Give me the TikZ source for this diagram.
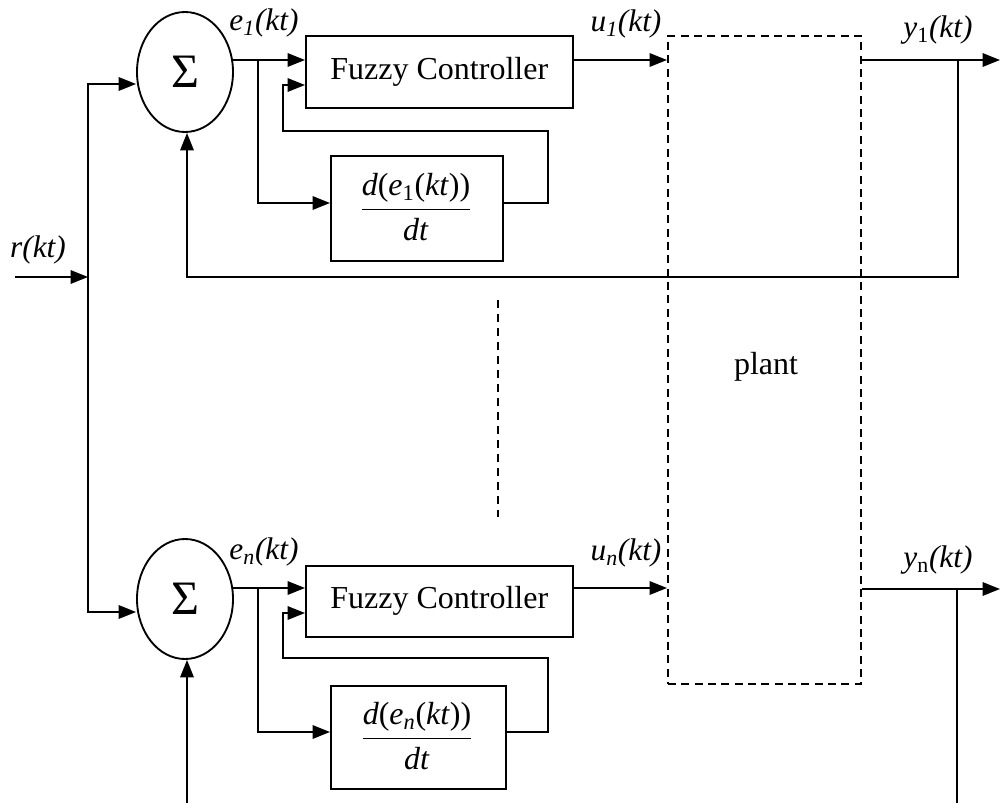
\documentclass[tikz,border=0pt]{standalone}
\usepackage{fontspec}
\setmainfont{Liberation Serif}
\usetikzlibrary{arrows.meta,shapes.geometric}
\begin{document}
\begin{tikzpicture}[x=0.75pt,y=-0.75pt,
  line width=1.5pt,
  >={Triangle[length=13pt,width=10pt]},
  blk/.style={draw,line width=1.4pt,inner sep=0pt},
  sumnode/.style={draw,ellipse,minimum width=72pt,minimum height=90pt,inner sep=0pt,line width=1.4pt,font=\fontsize{36}{36}\selectfont},
  lbl/.style={inner sep=0pt,font=\fontsize{23.5}{26}\selectfont},
  txt/.style={font=\fontsize{24}{27}\selectfont}]
\useasboundingbox (0,0) rectangle (1000,803);
% ---------- plant ----------
\node[blk,dashed,dash pattern=on 6pt off 4pt,minimum width=144.75pt,minimum height=486pt,anchor=north west] (plant) at (667,35) {};
\node[txt] (plantlbl) at (766,367) {plant};
% ---------- top loop ----------
\node[sumnode] (s1) at (185,72) {Σ};
\node[blk,minimum width=200pt,minimum height=54pt,anchor=north west,txt] (fc1) at (305,35) {Fuzzy Controller};
\node[blk,minimum width=129pt,minimum height=79pt,anchor=north west] (d1) at (330,155) {};
\node[txt] at (416,207) {$\displaystyle\frac{\hbox{\textit{d}(\textit{e}\textsubscript{1}(\textit{kt}))}}{\hbox{\textit{dt}}}$};
\node[lbl] (e1) at (264,23) {\textit{e\textsubscript{1}(kt)}};
\node[lbl] (u1) at (626,24) {\textit{u\textsubscript{1}(kt)}};
\node[lbl] (y1) at (938,30) {\textit{y}\textsubscript{1}\textit{(kt)}};
\coordinate (o1) at (233,60);
\coordinate (b1) at (258,60);
\draw[->] (o1) -- (fc1.west |- o1);
\draw[->] (b1) |- (d1.west |- 0,203);
\draw[->] (d1.east |- 0,203) -- (548,203) |- (283,131) |- (fc1.west |- 0,85);
\draw[->] (fc1.east |- o1) -- (plant.west |- o1);
\coordinate (y1o) at (1000,60);
\coordinate (t1) at (958,60);
\draw[->] (plant.east |- o1) -- (y1o);
\draw[->] (t1) |- (187,277) -- (s1.south -| 187,0);
% ---------- bottom loop ----------
\node[sumnode] (s2) at (185,599) {Σ};
\node[blk,minimum width=200pt,minimum height=53pt,anchor=north west,txt] (fc2) at (305,565) {Fuzzy Controller};
\node[blk,minimum width=131pt,minimum height=77pt,anchor=north west] (d2) at (330,685) {};
\node[txt] at (417,736) {$\displaystyle\frac{\hbox{\textit{d}(\textit{e}\textsubscript{\textit{n}}(\textit{kt}))}}{\hbox{\textit{dt}}}$};
\node[lbl] (en) at (264,552) {\textit{e\textsubscript{n}(kt)}};
\node[lbl] (un) at (626,553) {\textit{u\textsubscript{n}(kt)}};
\node[lbl] (yn) at (938,560) {\textit{y}\textsubscript{n}\textit{(kt)}};
\coordinate (o2) at (233,588);
\coordinate (b2) at (258,588);
\draw[->] (o2) -- (fc2.west |- o2);
\draw[->] (b2) |- (d2.west |- 0,732);
\draw[->] (d2.east |- 0,732) -- (548,732) |- (283,658) |- (fc2.west |- 0,613);
\draw[->] (fc2.east |- o2) -- (plant.west |- o2);
\coordinate (yno) at (1000,589);
\coordinate (t2) at (957,589);
\draw[->] (plant.east |- 0,589) -- (yno);
\draw (t2) -- (957,803);
\draw[->] (187,803) -- (s2.south -| 187,0);
% ---------- reference input ----------
\node[lbl] (r) at (38,250) {\textit{r(kt)}};
\coordinate (rin) at (15,277);
\coordinate (rj) at (88,277);
\draw[->] (rin) -- (rj);
\draw[->] (rj) |- (s1.west |- 0,84);
\draw[->] (rj) |- (s2.west |- 0,612);
% ---------- dots ----------
\draw[dashed,dash pattern=on 6pt off 4.5pt] (498,300) -- (498,517);
\end{tikzpicture}
\end{document}
